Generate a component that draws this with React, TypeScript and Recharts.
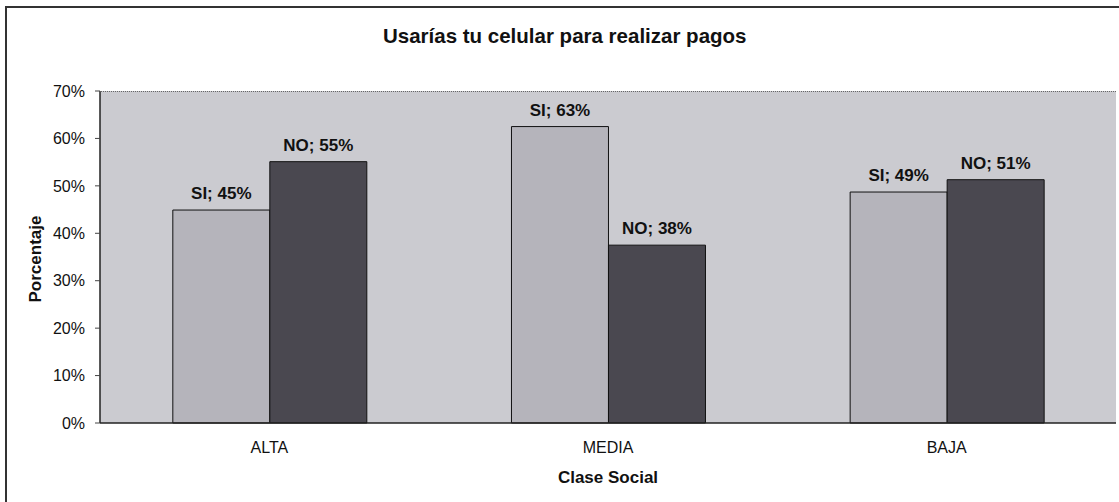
import {
  BarChart, Bar, XAxis, YAxis, CartesianGrid, LabelList,
} from 'recharts'

const categories = ['ALTA', 'MEDIA', 'BAJA']
const siValues = [44.9, 62.5, 48.7]
const noValues = [55.1, 37.5, 51.3]
const yTicks = [0, 10, 20, 30, 40, 50, 60, 70]

const data = categories.map((name, i) => ({ name, SI: siValues[i], NO: noValues[i] }))

const font = 'Arial, "Liberation Sans", sans-serif'

const pct = (v: any) => `${v}%`

export default function App() {
  return (
    <div style={{ position: 'absolute', left: 0, top: 0, width: 1119, height: 502, background: '#fff', fontFamily: font, overflow: 'hidden' }}>
      {/* outer chart frame, cut off at right and bottom */}
      <div style={{ position: 'absolute', left: 5, top: 6, width: 1130, height: 510, borderLeft: '2px solid #333', borderTop: '2px solid #333' }} />
      <div style={{ position: 'absolute', left: 383, top: 24, fontWeight: 'bold', fontSize: 20.5, color: '#111', whiteSpace: 'nowrap' }}>
        Usarías tu celular para realizar pagos
      </div>
      <div style={{ position: 'absolute', left: 0, top: 0 }}>
        <BarChart
          width={1119}
          height={502}
          data={data}
          barCategoryGap="21.5%"
          barGap={0}
          margin={{ top: 91, right: 3, left: 0, bottom: 19 }}
        >
          <CartesianGrid fill="#cbcbd0" horizontal={false} vertical={false} />
          <XAxis
            dataKey="name"
            height={60}
            tickLine={false}
            tickMargin={13}
            axisLine={{ stroke: '#222', strokeWidth: 1.5 }}
            tick={{ fontSize: 16, fill: '#111', fontFamily: font }}
            label={({ viewBox }: any) => (
              <text x={viewBox.x + viewBox.width / 2} y={483} textAnchor="middle" fontSize={17} fontWeight="bold" fill="#111" fontFamily={font}>
                Clase Social
              </text>
            )}
          />
          <YAxis
            domain={[0, 70]}
            ticks={yTicks}
            tickFormatter={pct}
            width={100}
            tickSize={5}
            tickMargin={10}
            interval={0}
            axisLine={{ stroke: '#222', strokeWidth: 1.5 }}
            tickLine={{ stroke: '#444' }}
            tick={{ fontSize: 16, fill: '#111', fontFamily: font }}
            label={({ viewBox }: any) => {
              const cy = viewBox.y + viewBox.height / 2 + 2
              return (
                <text x={35} y={cy} transform={`rotate(-90, 35, ${cy})`} textAnchor="middle" dominantBaseline="central" fontSize={17} fontWeight="bold" fill="#111" fontFamily={font}>
                  Porcentaje
                </text>
              )
            }}
          />
          <YAxis
            yAxisId="frame"
            orientation="right"
            domain={[0, 70]}
            width={0}
            tick={false}
            tickLine={false}
            axisLine={{ stroke: '#666', strokeDasharray: '1 1' }}
          />
          <Bar dataKey="SI" fill="#b5b4bb" stroke="#111" strokeWidth={1} isAnimationActive={false}>
            <LabelList
              dataKey="SI"
              position="top"
              offset={11}
              formatter={(v: any) => `SI; ${Math.round(v)}%`}
              style={{ fontSize: 17, fontWeight: 'bold', fill: '#111', fontFamily: font }}
            />
          </Bar>
          <Bar dataKey="NO" fill="#4a4850" stroke="#111" strokeWidth={1} isAnimationActive={false}>
            <LabelList
              dataKey="NO"
              position="top"
              offset={11}
              formatter={(v: any) => `NO; ${Math.round(v)}%`}
              style={{ fontSize: 17, fontWeight: 'bold', fill: '#111', fontFamily: font }}
            />
          </Bar>
        </BarChart>
      </div>
      {/* dotted top edge of plot area */}
      <div style={{ position: 'absolute', left: 100, top: 91, width: 1016, borderTop: '1px dotted #666' }} />
    </div>
  )
}
